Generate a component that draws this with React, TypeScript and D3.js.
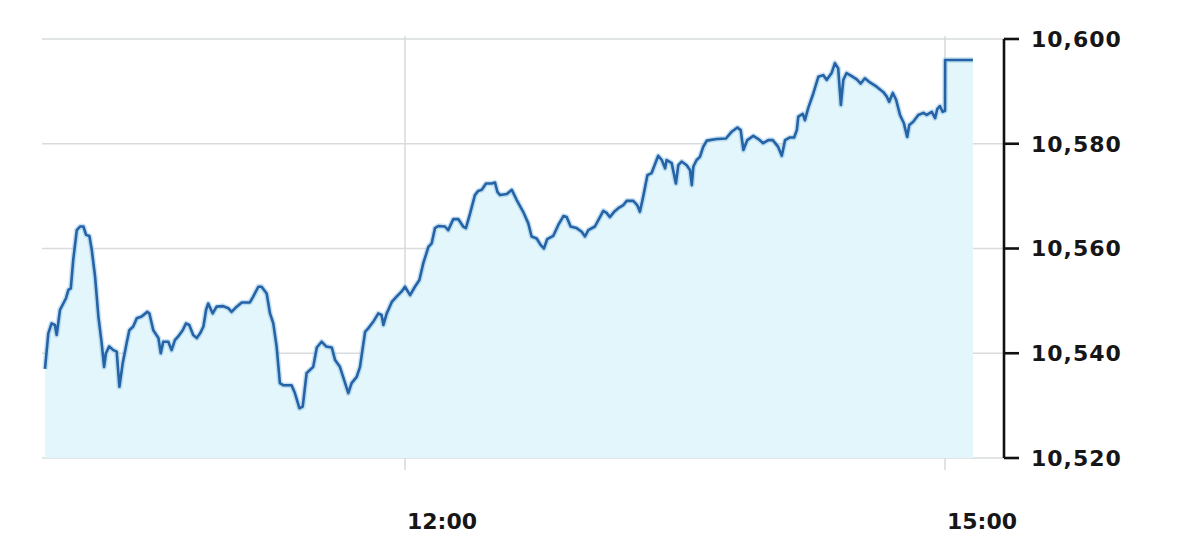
import React from "react";
import * as d3 from "d3";

// minutes after 10:00
const minutes: number[] = [
  0, 1.1, 2.2, 3.3, 3.9, 5.0, 6.1, 7.0, 7.8, 8.6, 9.4, 10.6, 11.7, 12.8, 13.7, 14.8, 15.6, 16.7, 17.8, 18.9,
  19.7, 20.3, 21.4, 22.8, 23.9, 24.8, 25.9, 27.2, 28.1, 29.4, 30.6, 32.2, 34.1, 34.8, 36.1, 37.8, 38.6, 39.4, 41.1, 42.2,
  43.3, 44.4, 45.9, 47.0, 48.1, 49.4, 50.6, 51.7, 52.8, 53.7, 54.4, 55.9, 57.2, 59.4, 61.1,
  62.2, 63.9, 65.6, 68.3, 69.4, 71.1, 72.2, 73.9, 75.0, 76.1, 77.2, 78.3, 79.4, 82.2, 83.3, 84.8, 85.9, 87.2, 88.3, 89.4,
  90.6, 92.2, 93.7, 95.6, 96.7, 98.3, 99.7, 101.1, 102.2, 103.9, 105.0, 106.7, 107.8, 109.4, 111.1, 112.2, 112.8, 113.9,
  115.6, 117.2, 118.9, 120.0, 121.7, 123.3, 124.8,
  126.1, 127.8, 128.9, 130.0, 131.1, 133.3, 134.4, 136.1, 137.8, 139.4, 140.3, 141.7, 143.3, 144.4, 145.6, 147.0, 148.9,
  150.0, 150.8, 151.7, 153.9, 155.6, 157.2, 159.4, 161.1, 162.2, 163.9, 165.2, 166.3, 167.4, 169.4, 171.1, 172.8, 173.9,
  175.2, 177.2, 178.9, 180.0, 181.1, 183.3, 184.8, 186.1, 187.2, 188.3, 189.7, 191.1, 192.8, 193.9, 196.1, 197.4, 198.3,
  199.4, 200.8, 202.2,
  204.4, 205.6, 206.7, 207.2, 208.9, 210.3, 211.1, 212.2, 213.9, 215.0, 215.6, 216.1, 217.2, 218.3, 219.4, 220.6, 223.9,
  227.0, 228.9, 230.8, 231.9, 232.8, 234.1, 236.1, 237.8, 239.4, 241.1, 242.6, 244.4, 245.6, 246.7, 248.3, 249.7, 250.6,
  251.1, 252.6, 253.3, 254.4, 256.1, 257.8, 259.4, 260.6, 262.2, 263.3, 264.4, 265.3, 266.1, 267.2, 268.9, 270.6, 271.9,
  273.3, 275.0, 277.2, 279.4, 280.6, 281.4, 282.6, 283.7, 285.0, 286.3, 287.4, 288.1, 289.4, 291.1, 292.8, 293.9, 295.6,
  296.7, 297.4, 298.3, 299.2, 300.0, 300.05, 309.3,
];

const values: number[] = [
  10537.0, 10543.8, 10545.7, 10545.4, 10543.5, 10548.3, 10549.5, 10550.5, 10552.1, 10552.4, 10557.8, 10563.5, 10564.2,
  10564.2, 10562.6, 10562.4, 10559.7, 10554.6, 10547.0, 10541.9, 10537.4, 10540.0, 10541.3, 10540.6, 10540.3, 10533.6,
  10538.1, 10541.9, 10544.4, 10545.1, 10546.7, 10547.0, 10547.9, 10547.6, 10544.4, 10542.9, 10540.0, 10542.2, 10542.2,
  10540.6, 10542.5, 10543.2, 10544.4, 10545.7, 10545.4, 10543.5, 10542.9, 10543.8, 10545.1, 10548.3, 10549.5, 10547.6,
  10548.9, 10549.0, 10548.6,
  10547.9, 10548.9, 10549.7, 10549.7, 10550.8, 10552.7, 10552.7, 10551.4, 10547.6, 10545.7, 10541.3, 10534.3, 10533.9,
  10533.9, 10532.4, 10529.5, 10529.8, 10536.2, 10536.8, 10537.4, 10541.1, 10542.2, 10541.3, 10541.1, 10538.7, 10537.4,
  10534.9, 10532.4, 10534.3, 10535.5, 10537.4, 10544.1, 10544.8, 10546.0, 10547.6, 10547.3, 10545.4, 10547.6, 10549.8,
  10550.8, 10551.8, 10552.7, 10551.1, 10552.7, 10554.0,
  10557.2, 10560.3, 10561.0, 10563.9, 10564.3, 10564.2, 10563.5, 10565.6, 10565.6, 10564.2, 10563.9, 10566.7, 10570.2,
  10571.0, 10571.2, 10572.4, 10572.4, 10572.6, 10570.8, 10570.2, 10570.4, 10571.2, 10569.3, 10567.0, 10564.8, 10562.3,
  10561.9, 10560.7, 10560.0, 10561.8, 10562.4, 10564.5, 10566.2, 10566.0, 10564.2, 10563.9, 10563.2, 10562.3, 10563.5,
  10564.2, 10565.8, 10567.2, 10566.8, 10566.0, 10567.0, 10567.7, 10568.3, 10569.1, 10569.1, 10568.3, 10567.0, 10569.9,
  10574.0, 10574.4,
  10577.7, 10576.9, 10575.3, 10576.9, 10576.3, 10572.4, 10575.9, 10576.6, 10575.9, 10575.0, 10572.1, 10575.6, 10576.9,
  10577.5, 10579.4, 10580.6, 10580.9, 10581.0, 10582.3, 10583.1, 10582.6, 10578.8, 10580.7, 10581.5, 10580.9, 10580.1,
  10580.7, 10580.7, 10579.4, 10577.7, 10580.7, 10581.2, 10581.2, 10582.6, 10585.2, 10585.7, 10584.5, 10586.8, 10589.6,
  10592.8, 10593.1, 10592.2, 10593.5, 10595.4, 10594.4, 10587.4, 10592.2, 10593.5, 10592.9, 10592.3, 10591.5, 10592.5,
  10591.7, 10590.9, 10589.9, 10589.0, 10588.0, 10589.7, 10588.4, 10585.5, 10583.9, 10581.3, 10583.6, 10584.2, 10585.5,
  10585.9, 10585.5, 10586.1, 10584.9, 10586.6, 10587.2, 10586.1, 10586.3, 10596.0, 10596.0,
];

const yTicks: number[] = [10520, 10540, 10560, 10580, 10600];
const xTickLabels: string[] = ["12:00", "15:00"];
const sessionStart = "10:00";
const sessionEnd = "15:20";

const W = 1200;
const H = 545;

function at(hm: string, addMin = 0): Date {
  const [h, m] = hm.split(":").map(Number);
  return new Date(2020, 0, 6, h, m + addMin, 0);
}

export default function App() {
  const data = minutes.map((m, i) => ({ t: new Date(at(sessionStart).getTime() + m * 60000), v: values[i] }));

  const x = d3.scaleTime().domain([at(sessionStart), at(sessionEnd)]).range([45, 1005]);
  const y = d3.scaleLinear().domain([10520, 10600]).range([458, 39]);

  const line = d3
    .line<{ t: Date; v: number }>()
    .x((d) => x(d.t))
    .y((d) => y(d.v));
  const area = d3
    .area<{ t: Date; v: number }>()
    .x((d) => x(d.t))
    .y0(y(10520))
    .y1((d) => y(d.v));

  const fmt = d3.format(",");
  const axisX = x.range()[1] - 1;
  const font = "'DejaVu Sans', Verdana, sans-serif";

  return (
    <svg
      width={W}
      height={H}
      viewBox={`0 0 ${W} ${H}`}
      style={{ position: "absolute", left: 0, top: 0, background: "#ffffff" }}
    >
      {/* horizontal grid */}
      {yTicks.map((t) => (
        <line key={"g" + t} x1={42} x2={axisX} y1={y(t)} y2={y(t)} stroke="#d9dcde" strokeWidth={1.6} />
      ))}
      {/* vertical grid */}
      {xTickLabels.map((lab) => (
        <line
          key={"v" + lab}
          x1={x(at(lab))}
          x2={x(at(lab))}
          y1={36}
          y2={470}
          stroke="#d9dcde"
          strokeWidth={1.6}
        />
      ))}
      <path d={area(data) || ""} fill="#e2f6fb" />
      <path d={line(data) || ""} fill="none" stroke="#8fc3e6" strokeOpacity={0.5} strokeWidth={5.5} strokeLinejoin="round" />
      <path d={line(data) || ""} fill="none" stroke="#2563a6" strokeWidth={2.6} strokeLinejoin="round" />

      {/* right axis */}
      <line x1={axisX} x2={axisX} y1={y(10600)} y2={y(10520)} stroke="#111" strokeWidth={2.6} />
      {yTicks.map((t) => (
        <g key={"t" + t}>
          <line x1={axisX} x2={axisX + 15} y1={y(t)} y2={y(t)} stroke="#111" strokeWidth={2.6} />
          <text
            x={1031}
            y={y(t)}
            dy="0.36em"
            fontFamily={font}
            fontWeight="bold"
            fontSize={22}
            letterSpacing={1}
            fill="#161616"
          >
            {fmt(t)}
          </text>
        </g>
      ))}
      {/* x labels */}
      {xTickLabels.map((lab) => (
        <text
          key={"l" + lab}
          x={x(at(lab)) + 2}
          y={529}
          fontFamily={font}
          fontWeight="bold"
          fontSize={22}
          fill="#161616"
        >
          {lab}
        </text>
      ))}
    </svg>
  );
}
